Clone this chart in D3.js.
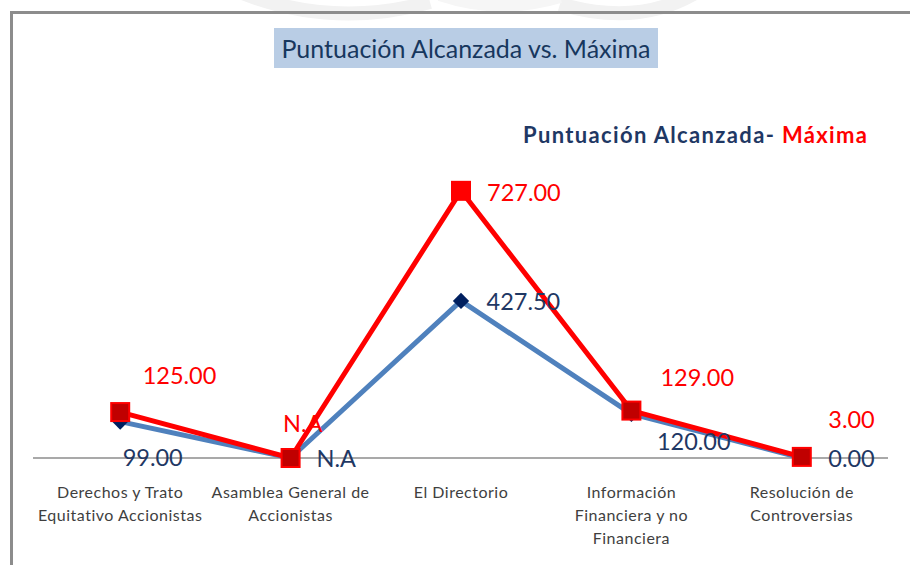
<!DOCTYPE html>
<html>
<head>
<meta charset="utf-8">
<script src="https://cdn.jsdelivr.net/npm/d3@7"></script>
<style>
  html, body { margin: 0; padding: 0; background: #fff; }
  svg { display: block; }
  text { font-family: Lato, "Open Sans", sans-serif; }
</style>
</head>
<body>
<svg id="chart" width="910" height="565"></svg>
<script>
// ---- data ----
const categories = [
  ["Derechos y Trato", "Equitativo Accionistas"],
  ["Asamblea General de", "Accionistas"],
  ["El Directorio"],
  ["Información", "Financiera y no", "Financiera"],
  ["Resolución de", "Controversias"]
];
const alcanzada = [99.00, 0, 427.50, 120.00, 0.00];
const alcanzadaLabels = ["99.00", "N.A", "427.50", "120.00", "0.00"];
const maxima = [125.00, 0, 727.00, 129.00, 3.00];
const maximaLabels = ["125.00", "N.A", "727.00", "129.00", "3.00"];
const yDomain = [0, 800];
const titleText = "Puntuación Alcanzada vs. Máxima";
const legendParts = ["Puntuación Alcanzada- ", "Máxima"];

// ---- layout / style ----
const svg = d3.select("#chart");
const W = 910, H = 565;
const plot = { left: 35, right: 887, top: 164, bottom: 458 };
const redOffsets  = [[22.5, -28], [-7.5, -26], [26, 10], [29, -24.5], [26.5, -29]];
const blueOffsets = [[2.5, 44.5], [26, 9], [25.5, 9], [25.5, 36], [26.5, 9]];

// watermark shapes at top
const wm = svg.append("g").attr("fill", "none").attr("stroke", "#f2f2f2").attr("stroke-width", 14);
wm.append("path").attr("d", "M235,-10 Q330,30 430,2");
wm.append("path").attr("d", "M560,4 Q640,28 700,-10");
wm.append("path").attr("d", "M440,-6 Q500,14 560,-4").attr("stroke", "#f6f6f6");

// frame
svg.append("path")
  .attr("d", `M11.5,${H + 5} L11.5,12.5 L${W + 5},12.5`)
  .attr("fill", "none").attr("stroke", "#8c8c8c").attr("stroke-width", 3);

// title
svg.append("rect").attr("x", 274).attr("y", 28).attr("width", 384).attr("height", 40)
  .attr("fill", "#b9cde5");
svg.append("text").attr("x", 466).attr("y", 58).attr("text-anchor", "middle")
  .attr("font-size", 25).attr("fill", "#17375e").text(titleText);

// legend-like subtitle
const lg = svg.append("text").attr("x", 523).attr("y", 143)
  .attr("font-size", 22).attr("font-weight", "bold").attr("letter-spacing", 1.35);
lg.append("tspan").attr("fill", "#1f3864").text(legendParts[0]);
lg.append("tspan").attr("fill", "#ff0000").text(legendParts[1]);

// scales
const x = d3.scaleBand().domain(d3.range(categories.length)).range([plot.left, plot.right]).padding(0);
const cx = i => x(i) + x.bandwidth() / 2;
const y = d3.scaleLinear().domain(yDomain).range([plot.bottom, plot.top]);

// axis line
svg.append("line").attr("x1", 33).attr("x2", 888)
  .attr("y1", y(0)).attr("y2", y(0))
  .attr("stroke", "#8c8c8c").attr("stroke-width", 1.5);

// category labels
categories.forEach((lines, i) => {
  const t = svg.append("text").attr("x", cx(i)).attr("y", 498)
    .attr("text-anchor", "middle").attr("font-size", 16).attr("letter-spacing", 0.5)
    .attr("fill", "#3f3f3f");
  lines.forEach((l, j) => t.append("tspan").attr("x", cx(i)).attr("dy", j === 0 ? 0 : 23).text(l));
});

const line = d3.line().x((d, i) => cx(i)).y(d => y(d));

// blue series
svg.append("path").datum(alcanzada).attr("d", line)
  .attr("fill", "none").attr("stroke", "#4f81bd").attr("stroke-width", 5).attr("stroke-linejoin", "round");
svg.selectAll(".dia").data(alcanzada).enter().append("path")
  .attr("d", d3.symbol().type(d3.symbolDiamond2).size(170))
  .attr("transform", (d, i) => `translate(${cx(i)},${y(d)})`)
  .attr("fill", "#002060");

// red series
svg.append("path").datum(maxima).attr("d", line)
  .attr("fill", "none").attr("stroke", "#ff0000").attr("stroke-width", 5).attr("stroke-linejoin", "round");
const sq = 18;
svg.selectAll(".sq").data(maxima).enter().append("rect")
  .attr("x", (d, i) => cx(i) - sq / 2).attr("y", d => y(d) - sq / 2)
  .attr("width", sq).attr("height", sq)
  .attr("fill", (d, i) => i === 2 ? "#ff0000" : "#c00000")
  .attr("stroke", "#ff0000").attr("stroke-width", 2);

// data labels
svg.selectAll(".lblB").data(alcanzada).enter().append("text")
  .attr("x", (d, i) => cx(i) + blueOffsets[i][0]).attr("y", (d, i) => y(d) + blueOffsets[i][1])
  .attr("font-size", 23.5).attr("fill", "#1f3864")
  .text((d, i) => alcanzadaLabels[i]);
svg.selectAll(".lblR").data(maxima).enter().append("text")
  .attr("x", (d, i) => cx(i) + redOffsets[i][0]).attr("y", (d, i) => y(d) + redOffsets[i][1])
  .attr("font-size", 23.5).attr("fill", "#ff0000")
  .text((d, i) => maximaLabels[i]);
</script>
</body>
</html>
